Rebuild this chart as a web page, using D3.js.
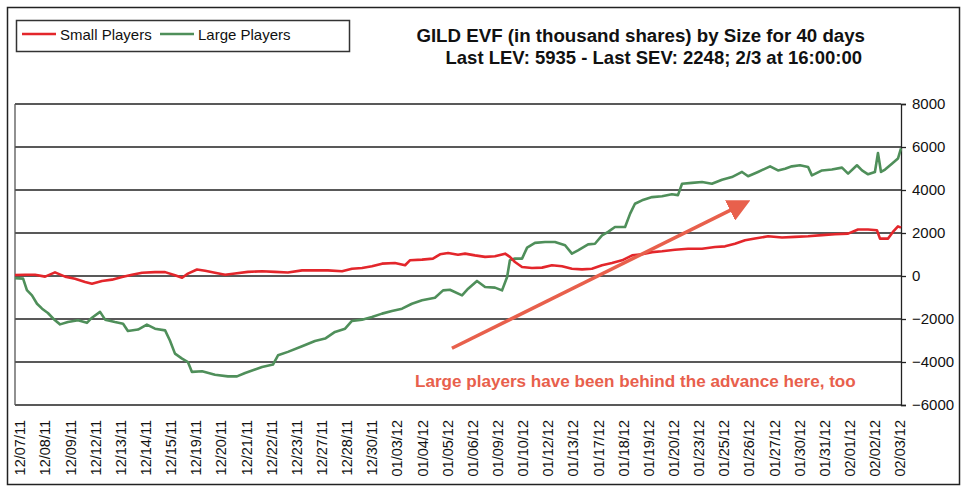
<!DOCTYPE html>
<html>
<head>
<meta charset="utf-8">
<script src="https://cdn.jsdelivr.net/npm/d3@7"></script>
<style>
  body { margin: 0; background: #fff; }
  text { font-family: "Liberation Sans", Arial, sans-serif; }
</style>
</head>
<body>
<div class="canvas"></div>
<script>
// trading days on the category axis
const days = ['12/07/11','12/08/11','12/09/11','12/12/11','12/13/11','12/14/11','12/15/11','12/19/11',
  '12/20/11','12/21/11','12/22/11','12/23/11','12/27/11','12/28/11','12/30/11','01/03/12','01/04/12',
  '01/05/12','01/06/12','01/09/12','01/10/12','01/12/12','01/13/12','01/17/12','01/18/12','01/19/12',
  '01/20/12','01/23/12','01/25/12','01/26/12','01/27/12','01/30/12','01/31/12','02/01/12','02/02/12','02/03/12']
const yTicks = [8000, 6000, 4000, 2000, 0, -2000, -4000, -6000]

// small players (SEV): position in trading days, value in thousand shares
const smallT = [0,0.40,0.79,1.19,1.58,1.98,2.37,2.77,3.04,3.44,3.83,4.23,4.62,5.02,5.53,5.93,6.32,6.60,6.83,
  7.19,7.51,7.90,8.30,8.69,9.20,9.76,10.27,10.78,11.34,11.85,12.36,12.92,13.31,13.71,14.10,14.50,15.01,15.41,
  15.60,16.08,16.51,16.79,17.11,17.50,17.78,18.17,18.57,18.96,19.36,19.55,19.75,20.03,20.42,20.82,21.21,21.61,
  22.00,22.40,22.79,23.19,23.58,23.98,24.38,24.77,25.17,25.56,26.07,26.59,27.14,27.65,28.05,28.44,28.84,29.23,
  29.75,30.30,30.81,31.33,31.88,32.39,32.91,33.30,33.70,34.05,34.17,34.49,34.68,34.88,35.00]
const smallV = [50,60,60,-30,170,-30,-130,-280,-360,-230,-170,-45,60,150,180,180,30,-80,110,
  300,240,150,60,120,190,220,190,160,260,260,260,220,340,370,450,575,605,500,
  730,760,810,1010,1070,990,1040,960,890,920,1040,890,650,420,370,390,500,450,
  340,310,340,500,600,730,960,1010,1110,1150,1220,1270,1270,1350,1380,1500,1660,1740,
  1850,1790,1820,1850,1900,1940,1970,2160,2160,2130,1740,1740,2050,2310,2248]

// large players (LEV)
const largeT = [0,0.32,0.47,0.67,0.87,1.07,1.30,1.58,1.78,2.09,2.49,2.84,3.04,3.36,3.56,3.95,4.27,4.46,4.86,
  5.21,5.53,5.93,6.12,6.32,6.60,6.83,6.99,7.39,7.90,8.41,8.77,9.09,9.76,10.19,10.39,10.78,11.34,11.85,12.25,
  12.64,13.04,13.31,13.71,14.10,14.50,14.89,15.29,15.68,16.08,16.59,16.91,17.18,17.66,17.90,18.25,18.57,18.96,
  19.24,19.44,19.55,19.75,20.03,20.23,20.54,20.94,21.33,21.73,22.00,22.24,22.64,22.91,23.19,23.43,23.70,24.10,
  24.30,24.49,24.77,25.17,25.56,25.95,26.19,26.35,26.74,27.14,27.53,27.93,28.32,28.72,28.96,29.35,29.83,30.14,
  30.42,30.69,31.01,31.33,31.48,31.88,32.27,32.67,32.91,33.26,33.46,33.70,33.97,34.09,34.21,34.37,34.64,34.88,35.00]
const largeV = [-100,-120,-660,-900,-1290,-1520,-1720,-2060,-2250,-2140,-2060,-2180,-1940,-1670,-2030,-2140,-2220,-2560,-2490,
  -2260,-2450,-2530,-3000,-3610,-3840,-4000,-4460,-4430,-4590,-4670,-4670,-4510,-4230,-4120,-3690,-3530,-3270,-3020,-2910,
  -2600,-2450,-2090,-2030,-1910,-1750,-1630,-1520,-1290,-1130,-1010,-670,-640,-900,-590,-230,-510,-540,
  -670,-50,730,810,810,1320,1540,1580,1580,1430,1040,1190,1470,1500,1890,2050,2280,2280,
  2900,3360,3520,3670,3710,3800,3760,4290,4330,4370,4290,4480,4600,4840,4640,4840,5100,4910,
  4990,5100,5150,5070,4680,4910,4950,5040,4760,5150,4910,4730,4840,5720,4840,4950,5220,5460,5935]

const dims = {width: 969, height: 487}
const plot = {left: 15, right: 901, top: 104, bottom: 405}
const colour = {small: '#e3262b', large: '#4f8f5a', note: '#e8604c'}

const svg = d3.select('.canvas')
    .append('svg')
    .attr('width', dims.width)
    .attr('height', dims.height)

svg.append('rect')
    .attr('width', dims.width).attr('height', dims.height)
    .attr('fill', '#fff')

//outer chart frame
svg.append('rect')
    .attr('x', 7.5).attr('y', 7.5)
    .attr('width', 952).attr('height', 477)
    .attr('fill', 'none').attr('stroke', '#222').attr('stroke-width', 1.5)

const x = d3.scaleLinear().domain([0, days.length - 1]).range([plot.left, plot.right])
const xLab = d3.scalePoint().domain(days).range([plot.left + 5, plot.right - 1])
const y = d3.scaleLinear().domain([-6000, 8000]).range([plot.bottom, plot.top])

//gridlines
svg.append('g')
    .selectAll('line')
    .data(yTicks)
    .join('line')
    .attr('x1', plot.left).attr('x2', plot.right)
    .attr('y1', d => y(d)).attr('y2', d => y(d))
    .attr('stroke', '#222').attr('stroke-width', 1.3)

svg.append('line')
    .attr('x1', plot.left).attr('x2', plot.left)
    .attr('y1', plot.top).attr('y2', plot.bottom)
    .attr('stroke', '#555').attr('stroke-width', 1.3)

//right value axis
const yAxis = d3.axisRight(y).tickValues(yTicks).tickSize(5).tickPadding(6).tickFormat(d3.format('d'))
const yG = svg.append('g')
    .attr('transform', `translate(${plot.right}, 0)`)
    .call(yAxis)
yG.select('.domain').attr('stroke', '#222').attr('stroke-width', 1.3)
yG.selectAll('.tick line').attr('stroke', '#222').attr('stroke-width', 1.3)
yG.selectAll('text')
    .attr('font-size', 15)
    .attr('font-family', '"Liberation Sans", Arial, sans-serif')
    .attr('fill', '#111')

//rotated date labels
svg.append('g')
    .selectAll('text')
    .data(days)
    .join('text')
    .attr('transform', d => `translate(${xLab(d)}, 420) rotate(-90)`)
    .attr('text-anchor', 'end')
    .attr('dy', '0.36em')
    .attr('font-size', 14.5)
    .attr('fill', '#111')
    .text(d => d)

//series
const line = d3.line()
    .x(d => x(d[0]))
    .y(d => y(d[1]))

const series = [
    {name: 'Small Players', t: smallT, v: smallV, colour: colour.small},
    {name: 'Large Players', t: largeT, v: largeV, colour: colour.large}
]

svg.append('g')
    .selectAll('path')
    .data([series[1], series[0]])
    .join('path')
    .attr('d', s => line(s.t.map((t, i) => [t, s.v[i]])))
    .attr('fill', 'none')
    .attr('stroke', s => s.colour)
    .attr('stroke-width', 2.6)
    .attr('stroke-linejoin', 'round')

//legend
const legend = svg.append('g')
legend.append('rect')
    .attr('x', 16.5).attr('y', 20.5)
    .attr('width', 333).attr('height', 31)
    .attr('fill', '#fff').attr('stroke', '#333').attr('stroke-width', 1.5)
const legendX = [22, 160]
series.forEach((s, i) => {
    legend.append('line')
        .attr('x1', legendX[i]).attr('x2', legendX[i] + 34)
        .attr('y1', 34).attr('y2', 34)
        .attr('stroke', s.colour).attr('stroke-width', 2.6)
    legend.append('text')
        .attr('x', legendX[i] + 38).attr('y', 40)
        .attr('font-size', 15)
        .attr('fill', '#111')
        .text(s.name)
})

//title
const title = svg.append('g')
    .attr('font-weight', 'bold')
    .attr('fill', '#111')
title.append('text')
    .attr('x', 865).attr('y', 42)
    .attr('text-anchor', 'end')
    .attr('font-size', 18.7)
    .text('GILD EVF (in thousand shares) by Size for 40 days')
title.append('text')
    .attr('x', 862).attr('y', 64)
    .attr('text-anchor', 'end')
    .attr('font-size', 18.5)
    .text('Last LEV: 5935 - Last SEV: 2248; 2/3 at 16:00:00')

//annotation arrow (in data units)
const arrow = {from: [17.26, -3360], to: [28.96, 3470]}
svg.append('defs').append('marker')
    .attr('id', 'head')
    .attr('viewBox', '0 0 10 10')
    .attr('refX', 2).attr('refY', 5)
    .attr('markerWidth', 6.5).attr('markerHeight', 6.5)
    .attr('orient', 'auto')
    .append('path')
    .attr('d', 'M0,0 L10,5 L0,10 Z')
    .attr('fill', colour.note)
svg.append('line')
    .attr('x1', x(arrow.from[0])).attr('y1', y(arrow.from[1]))
    .attr('x2', x(arrow.to[0]) - 14).attr('y2', y(arrow.to[1]) + 7)
    .attr('stroke', colour.note).attr('stroke-width', 3.5)
    .attr('marker-end', 'url(#head)')

svg.append('text')
    .attr('x', x(15.80)).attr('y', y(-5180))
    .attr('font-size', 17.1)
    .attr('font-weight', 'bold')
    .attr('fill', colour.note)
    .text('Large players have been behind the advance here, too')
</script>
</body>
</html>
